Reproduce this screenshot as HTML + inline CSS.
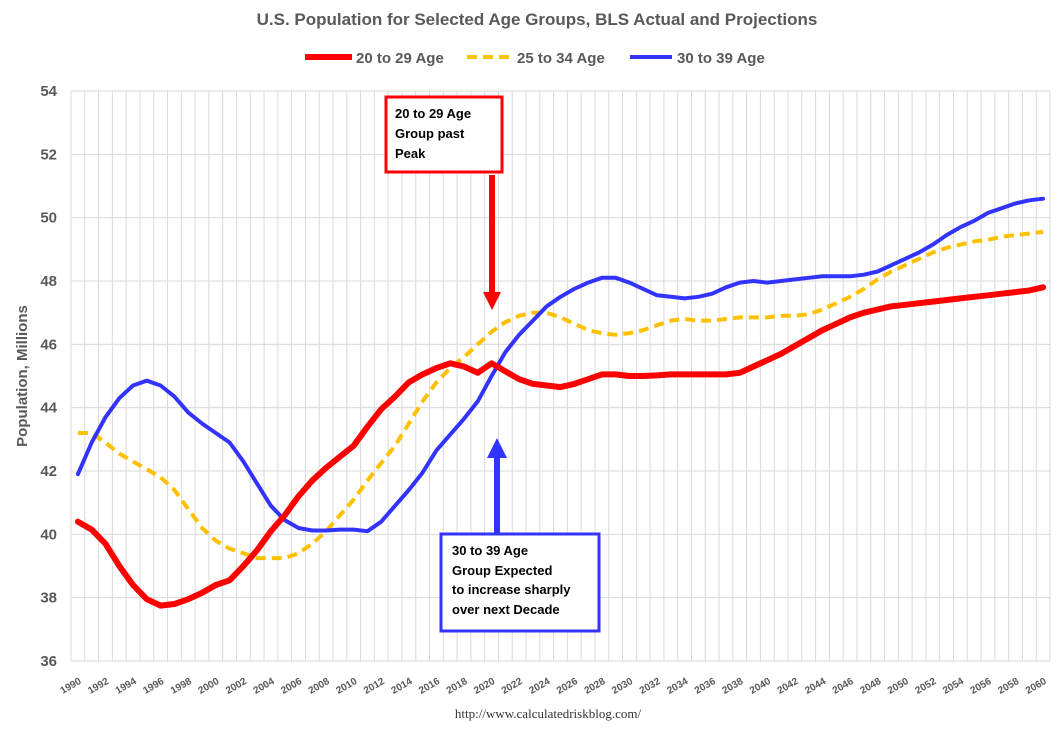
<!DOCTYPE html>
<html><head><meta charset="utf-8"><style>
body{margin:0;background:#fff;}
svg text{font-family:"Liberation Sans",sans-serif;}
</style></head><body>
<svg id="chart" width="1064" height="730" xmlns="http://www.w3.org/2000/svg">
<text x="537" y="25" text-anchor="middle" font-size="17" font-weight="bold" fill="#595959">U.S. Population for Selected Age Groups, BLS Actual and Projections</text>
<g id="legend">
<g><line x1="305" y1="57" x2="352" y2="57" stroke="#ff0000" stroke-width="6"/><text x="356" y="63" font-size="15" font-weight="bold" fill="#595959">20 to 29 Age</text></g>
<g><line x1="467" y1="57" x2="511" y2="57" stroke="#ffc000" stroke-width="4" stroke-dasharray="10,6"/><text x="517" y="63" font-size="15" font-weight="bold" fill="#595959">25 to 34 Age</text></g>
<g><line x1="630" y1="57" x2="672" y2="57" stroke="#3333ff" stroke-width="4"/><text x="677" y="63" font-size="15" font-weight="bold" fill="#595959">30 to 39 Age</text></g>
</g>
<g id="grid"></g>
<g id="axes"></g>
<g id="series"></g>
<text transform="translate(27,376) rotate(-90)" text-anchor="middle" font-size="15" font-weight="bold" fill="#595959">Population, Millions</text>
<g>
<rect x="386" y="97" width="116" height="75" fill="#fff" stroke="#ff0000" stroke-width="3"/>
<text font-size="13" font-weight="bold" fill="#000"><tspan x="395" y="118">20 to 29 Age</tspan><tspan x="395" y="138">Group past</tspan><tspan x="395" y="158">Peak</tspan></text>
<line x1="492" y1="175" x2="492" y2="292" stroke="#ff0000" stroke-width="6"/>
<polygon points="483,292 501,292 492,310" fill="#ff0000"/>
</g>
<g>
<line x1="497" y1="534" x2="497" y2="456" stroke="#3333ff" stroke-width="6"/>
<polygon points="487,458 507,458 497,438" fill="#3333ff"/>
<rect x="441" y="534" width="158" height="97" fill="#fff" stroke="#3333ff" stroke-width="3"/>
<text font-size="13" font-weight="bold" fill="#000"><tspan x="452" y="555">30 to 39 Age</tspan><tspan x="452" y="575">Group Expected</tspan><tspan x="452" y="594">to increase sharply</tspan><tspan x="452" y="614">over next Decade</tspan></text>
</g>
<text x="548" y="718" text-anchor="middle" font-size="13" fill="#333" style="font-family:'Liberation Serif',serif">http://www.calculatedriskblog.com/</text>
</svg>
<script>
const years = [];
for (let y = 1990; y <= 2060; y++) years.push(y);
const yTicks = [36,38,40,42,44,46,48,50,52,54];
const age20to29 = [40.4,40.15,39.7,39.0,38.4,37.95,37.75,37.8,37.95,38.15,38.4,38.55,39.0,39.5,40.1,40.6,41.2,41.7,42.1,42.45,42.8,43.4,43.95,44.35,44.8,45.05,45.25,45.4,45.3,45.1,45.4,45.15,44.9,44.75,44.7,44.65,44.75,44.9,45.05,45.05,45.0,45.0,45.02,45.05,45.05,45.05,45.05,45.05,45.1,45.3,45.5,45.7,45.95,46.2,46.45,46.65,46.85,47.0,47.1,47.2,47.25,47.3,47.35,47.4,47.45,47.5,47.55,47.6,47.65,47.7,47.8];
const age25to34 = [43.2,43.2,42.9,42.55,42.3,42.05,41.8,41.4,40.8,40.2,39.8,39.55,39.4,39.25,39.25,39.25,39.4,39.7,40.1,40.6,41.1,41.7,42.25,42.8,43.5,44.2,44.8,45.25,45.6,46.0,46.4,46.7,46.9,47.0,47.0,46.85,46.65,46.45,46.35,46.3,46.35,46.45,46.6,46.75,46.8,46.75,46.75,46.8,46.85,46.85,46.85,46.9,46.9,46.95,47.1,47.3,47.5,47.75,48.05,48.3,48.5,48.7,48.9,49.05,49.15,49.25,49.3,49.4,49.45,49.5,49.55];
const age30to39 = [41.9,42.9,43.7,44.3,44.7,44.85,44.7,44.35,43.85,43.5,43.2,42.9,42.3,41.6,40.9,40.45,40.2,40.12,40.12,40.15,40.15,40.1,40.4,40.9,41.4,41.95,42.65,43.15,43.65,44.2,45.0,45.75,46.3,46.75,47.2,47.5,47.75,47.95,48.1,48.1,47.95,47.75,47.55,47.5,47.45,47.5,47.6,47.8,47.95,48.0,47.95,48.0,48.05,48.1,48.15,48.15,48.15,48.2,48.3,48.5,48.7,48.9,49.15,49.45,49.7,49.9,50.15,50.3,50.45,50.55,50.6];

const NS='http://www.w3.org/2000/svg';
const L=71,R=1050,T=91,B=661,yMin=36,yMax=54;
const step=(R-L)/years.length;
const xs=i=>L+step*(i+0.5);
const ys=v=>B-(v-yMin)/(yMax-yMin)*(B-T);
function mk(tag,attrs,parent){const e=document.createElementNS(NS,tag);for(const k in attrs)e.setAttribute(k,attrs[k]);parent.appendChild(e);return e;}
const grid=document.getElementById('grid'),axes=document.getElementById('axes'),ser=document.getElementById('series');
for(let i=0;i<=years.length;i++){
  const x=L+step*i;
  const g=mk('line',{x1:x,y1:T,x2:x,y2:B,stroke:'#d9d9d9','stroke-width':1},grid);
  
  
}
yTicks.forEach(v=>{
  const g=mk('line',{x1:L,y1:ys(v),x2:R,y2:ys(v),stroke:'#d9d9d9','stroke-width':1},grid);
  
  
  const t=mk('text',{x:57,y:ys(v)+5,'text-anchor':'end','font-size':15,'font-weight':'bold',fill:'#595959'},axes);
  t.textContent=v;
  
  
});
years.forEach((y,i)=>{
  if(y%2) return;
  const x=xs(i)+4,yy=B+22;
  const t=mk('text',{x:x,y:yy,'text-anchor':'end','font-size':10,'font-weight':'bold',fill:'#595959',transform:`rotate(-30 ${x} ${yy})`},axes);
  t.textContent=y;
  
  
});
function line(data,color,w,dash,name){
  const pts=data.map((v,i)=>xs(i).toFixed(1)+','+ys(v).toFixed(1)).join(' ');
  const p=mk('polyline',{points:pts,fill:'none',stroke:color,'stroke-width':w,'stroke-linejoin':'round','stroke-linecap':dash?'butt':'round'},ser);
  if(dash)p.setAttribute('stroke-dasharray',dash);
  
  
}
line(age25to34,'#ffc000',4,'10,6','series-25-34');
line(age30to39,'#3333ff',4,null,'series-30-39');
line(age20to29,'#ff0000',6,null,'series-20-29');
</script>
</body></html>
